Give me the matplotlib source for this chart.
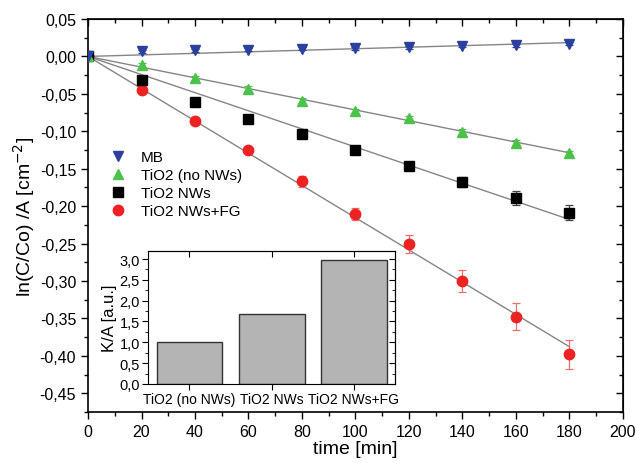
import numpy as np
import matplotlib.pyplot as plt
from matplotlib.ticker import MultipleLocator, FuncFormatter

plt.rcParams['font.family'] = ['Liberation Sans', 'DejaVu Sans']

# data
time_min = [0, 20, 40, 60, 80, 100, 120, 140, 160, 180]
mb = [0.0, 0.007, 0.008, 0.009, 0.010, 0.0106, 0.012, 0.014, 0.015, 0.017]
mb_err = [0, 0.002, 0.002, 0.002, 0.002, 0.002, 0.002, 0.002, 0.002, 0.002]
tio2_no_nw = [0.0, -0.012, -0.029, -0.043, -0.059, -0.073, -0.082, -0.1005, -0.115, -0.129]
tio2_no_nw_err = [0, 0.003, 0.003, 0.003, 0.003, 0.003, 0.003, 0.003, 0.003, 0.003]
tio2_nw = [0.0, -0.031, -0.061, -0.084, -0.104, -0.125, -0.147, -0.168, -0.189, -0.209]
tio2_nw_err = [0, 0.002, 0.002, 0.002, 0.003, 0.004, 0.005, 0.007, 0.009, 0.010]
tio2_nw_fg = [0.0, -0.0455, -0.0865, -0.125, -0.167, -0.210, -0.251, -0.300, -0.3475, -0.398]
tio2_nw_fg_err = [0, 0.002, 0.003, 0.004, 0.007, 0.008, 0.012, 0.0145, 0.0176, 0.019]

bar_labels = ['TiO2 (no NWs)', 'TiO2 NWs', 'TiO2 NWs+FG']
bar_values = [1.0, 1.67, 2.97]

series = [
    (mb, mb_err, 'MB', 'v', '#2b3f9e', '#2b3f9e'),
    (tio2_no_nw, tio2_no_nw_err, 'TiO2 (no NWs)', '^', '#4cc24a', '#4cc24a'),
    (tio2_nw, tio2_nw_err, 'TiO2 NWs', 's', 'black', '#444444'),
    (tio2_nw_fg, tio2_nw_fg_err, 'TiO2 NWs+FG', 'o', '#ee2222', '#e87070'),
]

comma = FuncFormatter(lambda v, p: f"{v:.2f}".replace('.', ','))
comma1 = FuncFormatter(lambda v, p: f"{v:.1f}".replace('.', ','))

fig = plt.figure(figsize=(6.36, 4.64), dpi=100)
ax = fig.add_axes([0.1384, 0.1099, 0.841, 0.847])

t = np.array(time_min, dtype=float)
for i, (vals, err, lab, mk, col, ecol) in enumerate(series):
    y = np.array(vals)
    k = np.sum(t * y) / np.sum(t * t)   # linear fit through origin
    ax.plot([t[0], t[-1]], [k * t[0], k * t[-1]], color='#858585', lw=1.0, zorder=2)
    ax.errorbar(t, y, yerr=err, fmt='none', ecolor=ecol, elinewidth=0.9, capsize=3, capthick=0.9, zorder=3)
    ax.plot(t, y, ls='none', marker=mk, color=col, markersize=7.5, label=lab, zorder=10 - i)

ax.set_xlim(0, 200)
ax.set_ylim(-0.475, 0.05)
ax.xaxis.set_major_locator(MultipleLocator(20))
ax.xaxis.set_minor_locator(MultipleLocator(10))
ax.yaxis.set_major_locator(MultipleLocator(0.05))
ax.yaxis.set_minor_locator(MultipleLocator(0.025))
ax.yaxis.set_major_formatter(comma)
ax.tick_params(which='both', direction='out', labelsize=11.5, top=False, right=False)
ax.tick_params(which='major', length=5, width=1)
ax.tick_params(which='minor', length=3, width=1)
for s in ax.spines.values():
    s.set_linewidth(1.2)

# mirrored ticks pointing inward on top and right
axt = ax.secondary_xaxis('top')
axt.xaxis.set_major_locator(MultipleLocator(20))
axt.xaxis.set_minor_locator(MultipleLocator(10))
axt.tick_params(which='both', direction='in', labeltop=False, width=1)
axt.tick_params(which='major', length=5)
axt.tick_params(which='minor', length=3)
axr = ax.secondary_yaxis('right')
axr.yaxis.set_major_locator(MultipleLocator(0.05))
axr.yaxis.set_minor_locator(MultipleLocator(0.025))
axr.tick_params(which='both', direction='in', labelright=False, width=1)
axr.tick_params(which='major', length=5)
axr.tick_params(which='minor', length=3)

ax.set_xlabel('time [min]', fontsize=14, labelpad=1)
ax.set_ylabel('ln(C/Co) /A [cm$^{-2}$]', fontsize=14, labelpad=2)

ax.legend(loc='upper left', bbox_to_anchor=(0.025, 0.685), frameon=False, fontsize=11,
          handletextpad=0.9, labelspacing=0.25, borderpad=0, handlelength=1.2)

# inset bar chart
axi = fig.add_axes([0.2332, 0.1703, 0.388, 0.2873])
pos = np.arange(1, len(bar_values) + 1)
axi.bar(pos, bar_values, width=0.8, color='#b4b4b4', edgecolor='#333333', linewidth=1.0)
axi.set_xlim(0.5, 3.5)
axi.set_ylim(0, 3.2)
axi.set_xticks(pos)
axi.set_xticklabels(bar_labels, fontsize=10)
axi.yaxis.set_major_locator(MultipleLocator(0.5))
axi.yaxis.set_minor_locator(MultipleLocator(0.25))
axi.yaxis.set_major_formatter(comma1)
axi.tick_params(which='both', direction='out', pad=2)
axi.tick_params(axis='y', labelsize=10.5)
axi.tick_params(which='major', length=4)
axi.tick_params(which='minor', length=2.5)
axi.set_ylabel('K/A [a.u.]', fontsize=12, labelpad=2)
ait = axi.secondary_xaxis('top')
ait.set_xticks(pos)
ait.tick_params(direction='in', labeltop=False, length=4)
air = axi.secondary_yaxis('right')
air.yaxis.set_major_locator(MultipleLocator(0.5))
air.yaxis.set_minor_locator(MultipleLocator(0.25))
air.tick_params(which='both', direction='in', labelright=False)
air.tick_params(which='major', length=4)
air.tick_params(which='minor', length=2.5)

fig.savefig('out.png', dpi=100)
